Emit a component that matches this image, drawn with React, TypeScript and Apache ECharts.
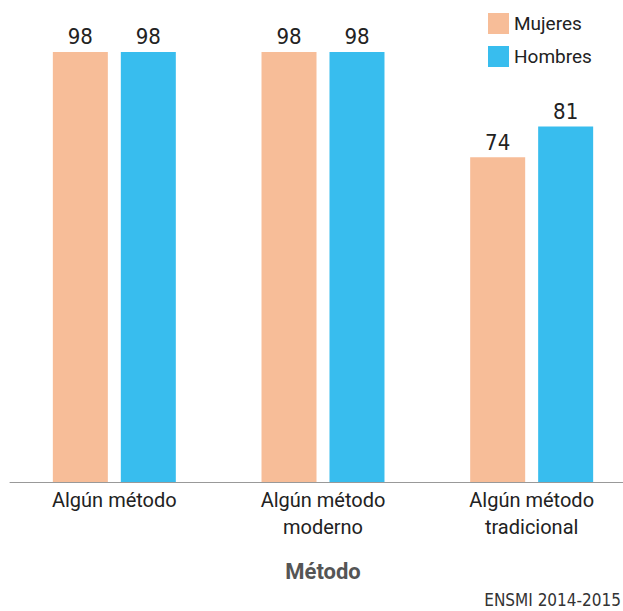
import React, { useEffect, useRef } from "react";
import * as echarts from "echarts";

const categories = ["Algún método", "Algún método\nmoderno", "Algún método\ntradicional"];
const mujeres = [98, 98, 74];
const hombres = [98, 98, 81];
const seriesNames = ["Mujeres", "Hombres"];
const axisName = "Método";
const sourceText = "ENSMI 2014-2015";

const NARROW = "'DejaVu Sans Condensed', 'Roboto', sans-serif";
const SANS = "'Roboto', 'Liberation Sans', sans-serif";

export default function App() {
  const ref = useRef<HTMLDivElement>(null);
  useEffect(() => {
    if (!ref.current) return;
    const chart = echarts.init(ref.current, undefined, { renderer: "svg" });
    const labelStyle = {
      show: true,
      position: "top",
      distance: 4,
      fontFamily: NARROW,
      fontSize: 22,
      color: "#222",
    };
    chart.setOption({
      animation: false,
      backgroundColor: "#ffffff",
      legend: {
        data: seriesNames,
        orient: "vertical",
        left: 488,
        top: 13,
        padding: 0,
        itemWidth: 21,
        itemHeight: 21,
        itemGap: 12,
        icon: "rect",
        textStyle: { fontFamily: SANS, fontSize: 19, color: "#222" },
      },
      grid: {
        left: 10,
        top: 43.2,
        width: 626,
        height: 438.8,
        outerBoundsMode: "none",
        containLabel: false,
      },
      xAxis: {
        type: "category",
        data: categories,
        name: axisName,
        nameLocation: "middle",
        nameGap: 78,
        nameTextStyle: { fontFamily: SANS, fontWeight: "bold", fontSize: 22, color: "#555" },
        axisLine: { lineStyle: { color: "#999", width: 1 } },
        axisTick: { show: false },
        axisLabel: {
          fontFamily: SANS,
          fontSize: 20,
          lineHeight: 27,
          color: "#222",
          margin: 4,
          interval: 0,
        },
      },
      yAxis: {
        type: "value",
        min: 0,
        max: 100,
        show: false,
        splitLine: { show: false },
      },
      series: [
        {
          name: seriesNames[0],
          type: "bar",
          data: mujeres,
          barWidth: 55,
          barGap: "23.6%",
          itemStyle: { color: "#F7BD98" },
          label: labelStyle,
        },
        {
          name: seriesNames[1],
          type: "bar",
          data: hombres,
          barWidth: 55,
          barGap: "23.6%",
          itemStyle: { color: "#38BDEE" },
          label: labelStyle,
        },
      ],
      graphic: [
        {
          type: "text",
          x: 621,
          y: 600,
          style: {
            text: sourceText,
            fontFamily: NARROW,
            fontSize: 17,
            fill: "#333",
            textAlign: "right",
            textVerticalAlign: "middle",
          },
        },
      ],
    });
    return () => chart.dispose();
  }, []);
  return (
    <div
      ref={ref}
      style={{ position: "absolute", left: 0, top: 0, width: 623, height: 611 }}
    />
  );
}
